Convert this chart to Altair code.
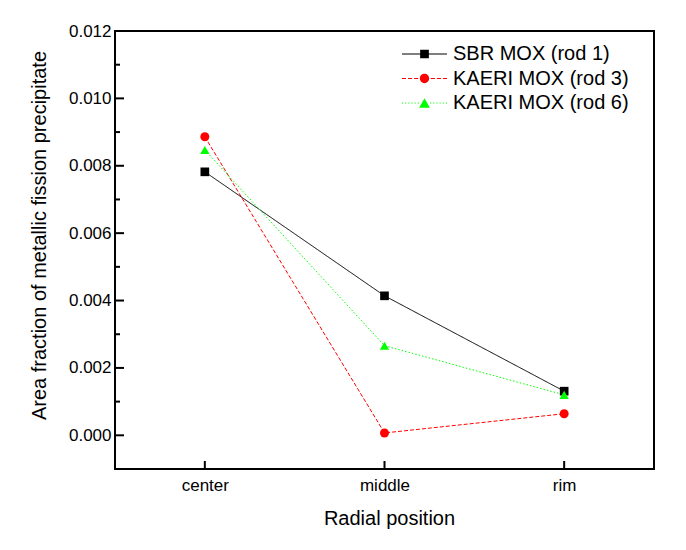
import altair as alt
import pandas as pd

positions = ["center", "middle", "rim"]
series_names = ["SBR MOX (rod 1)", "KAERI MOX (rod 3)", "KAERI MOX (rod 6)"]
sbr_rod1 = [0.00782, 0.00414, 0.00131]
kaeri_rod3 = [0.00886, 0.00007, 0.00064]
kaeri_rod6 = [0.00847, 0.00266, 0.00120]
colors = ["#000000", "#ff0000", "#00ff00"]
y_major_ticks = [0.000, 0.002, 0.004, 0.006, 0.008, 0.010, 0.012]
y_minor_ticks = [-0.001, 0.001, 0.003, 0.005, 0.007, 0.009, 0.011]

rows = []
for name, vals in zip(series_names, [sbr_rod1, kaeri_rod3, kaeri_rod6]):
    for i, (p, v) in enumerate(zip(positions, vals)):
        rows.append({"series": name, "position": p, "value": v, "order": i})
df = pd.DataFrame(rows)

FONT = "Liberation Sans"
W, H = 539, 438

xscale = alt.Scale(type="point", domain=positions, padding=0.5)
yscale = alt.Scale(domain=[-0.001, 0.012], nice=False, zero=False)

x_axis = alt.Axis(title="Radial position", labelAngle=0, domain=False, ticks=False, tickSize=0,
                  grid=False, labelFont=FONT, labelFontSize=17, labelColor="black",
                  labelBaseline="alphabetic", labelPadding=21,
                  titleFont=FONT, titleFontSize=20, titleFontWeight="normal", titleColor="black",
                  titleX=274, titleY=55, titleBaseline="alphabetic")
y_axis = alt.Axis(title="Area fraction of metallic fission precipitate", values=y_major_ticks,
                  format=".3f", domain=False, ticks=False, tickSize=0, grid=False,
                  labelFont=FONT, labelFontSize=17, labelColor="black", labelPadding=4,
                  titleFont=FONT, titleFontSize=20, titleFontWeight="normal", titleColor="black",
                  titleX=-76, titleY=204, titleBaseline="middle", titleAngle=270)

x_enc = alt.X("position:N", scale=xscale, sort=positions, axis=x_axis)
y_enc = alt.Y("value:Q", scale=yscale, axis=y_axis)

color_scale = alt.Scale(domain=series_names, range=colors)

lines = alt.Chart(df).mark_line(strokeWidth=1).encode(
    x=x_enc, y=y_enc,
    color=alt.Color("series:N", scale=color_scale, legend=None),
    strokeDash=alt.StrokeDash("series:N", scale=alt.Scale(domain=series_names, range=[[1, 0], [4, 2], [1.5, 2]]), legend=None),
    order="order:Q",
)

points = alt.Chart(df).mark_point(filled=True, opacity=1, strokeWidth=0).encode(
    x=x_enc, y=y_enc,
    color=alt.Color("series:N", scale=color_scale, legend=None),
    shape=alt.Shape("series:N", scale=alt.Scale(domain=series_names, range=["square", "circle", "triangle-up"]), legend=None),
    size=alt.Size("series:N", scale=alt.Scale(domain=series_names, range=[75, 87, 121]), legend=None),
)

# legend symbols: line + marker paths (unit = sqrt(size)/2 px)
def hseg(a, b, t=0.11):
    return f"M{a},{-t} H{b} V{t} H{a} Z "

sq = "M-0.97,-0.97 H0.97 V0.97 H-0.97 Z "
path_sbr = hseg(-5, -0.97) + sq + hseg(0.97, 5)
circ = "M-1.03,0 A1.03,1.03 0 1,1 1.03,0 A1.03,1.03 0 1,1 -1.03,0 Z "
dashes = [(-5, -4.1), (-3.65, -2.75), (-2.3, -1.4), (1.4, 2.3), (2.75, 3.65), (4.1, 5)]
path_r3 = "".join(hseg(a, b) for a, b in dashes) + circ
tri = "M-1.2,1.05 L0,-1.05 L1.2,1.05 Z "
dots = [-5, -4.3, -3.6, -2.9, -2.2, -1.5, 1.25, 1.95, 2.65, 3.35, 4.05, 4.75]
path_r6 = "".join(hseg(d, d + 0.25) for d in dots) + tri

legend_props = dict(title=None, orient="none", legendX=299.5, legendY=13,
                    labelFont=FONT, labelFontSize=20, labelColor="black",
                    symbolSize=81, symbolStrokeWidth=0, symbolOpacity=1,
                    labelOffset=18.5, rowPadding=4.5, padding=0, labelLimit=400)

legend_layer = alt.Chart(df).mark_point(filled=True, opacity=0).encode(
    x=x_enc, y=y_enc,
    color=alt.Color("series:N", scale=color_scale, legend=alt.Legend(**legend_props)),
    shape=alt.Shape("series:N", scale=alt.Scale(domain=series_names, range=[path_sbr, path_r3, path_r6]),
                    legend=alt.Legend(**legend_props)),
)

major_df = pd.DataFrame({"tick": y_major_ticks})
minor_df = pd.DataFrame({"tick": y_minor_ticks})
xt_df = pd.DataFrame({"position": positions})

y_major = alt.Chart(major_df).mark_rule(color="black", strokeWidth=2).encode(
    y=alt.Y("tick:Q", scale=yscale, axis=y_axis), x=alt.value(0), x2=alt.value(9))
y_minor = alt.Chart(minor_df).mark_rule(color="black", strokeWidth=2).encode(
    y=alt.Y("tick:Q", scale=yscale, axis=y_axis), x=alt.value(0), x2=alt.value(5))
x_ticks = alt.Chart(xt_df).mark_rule(color="black", strokeWidth=2).encode(
    x=alt.X("position:N", scale=xscale, sort=positions, axis=x_axis), y=alt.value(H), y2=alt.value(H - 8))

main = alt.layer(lines, points, y_major, y_minor, x_ticks)

chart = alt.layer(main, legend_layer).resolve_scale(
    color="independent", shape="independent"
).properties(
    width=W, height=H,
    autosize=alt.AutoSizeParams(type="none"),
    padding={"left": 115, "top": 31, "right": 32, "bottom": 81},
    background="white",
).configure_view(stroke="black", strokeWidth=2)

chart.save("out.html", embed_options={"renderer": "svg", "actions": False})
